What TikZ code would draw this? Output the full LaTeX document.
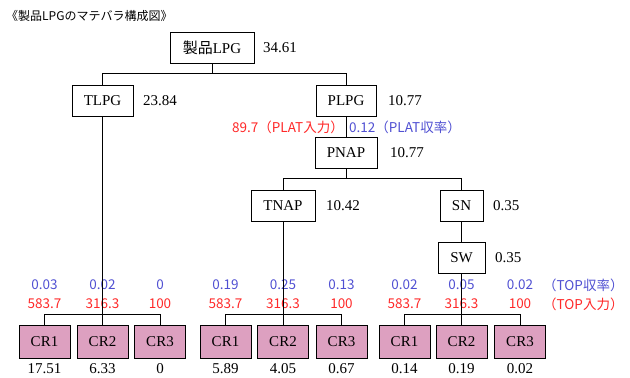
\documentclass[tikz,border=0pt]{standalone}
\usepackage{fontspec}
\setmainfont{Liberation Serif}
\newfontfamily\jp{Noto Sans CJK JP}
\definecolor{crpink}{RGB}{221,160,192}
\definecolor{lblue}{RGB}{80,80,210}
\definecolor{lred}{RGB}{255,40,40}
\begin{document}
\begin{tikzpicture}[x=1pt,y=-1pt,
  box/.style={draw,line width=0.9pt,minimum height=31pt,inner sep=0pt,font=\fontsize{15}{17}\selectfont},
  crbox/.style={box,fill=crpink,minimum width=51pt,minimum height=33pt},
  val/.style={anchor=west,inner sep=0pt,font=\fontsize{15}{17}\selectfont},
  num/.style={inner sep=0pt,font=\fontsize{15}{17}\selectfont},
  bl/.style={inner sep=0pt,text=lblue,font=\jp\fontsize{13.5}{15}\selectfont},
  rd/.style={inner sep=0pt,text=lred,font=\jp\fontsize{13.5}{15}\selectfont},
  conn/.style={line width=0.9pt}]
\useasboundingbox (0,0) rectangle (630,378);

\node[anchor=west,inner sep=0pt,font=\jp\fontsize{12}{14}\selectfont] (title) at (6,16) {《製品LPGのマテバラ構成図》};

% upper tree
\node[box,minimum width=84pt] (prod) at (212,47.5) {{\jp 製品}LPG};
\node[val] (vprod) at (263,48) {34.61};
\node[box,minimum width=61pt] (tlpg) at (102.5,101) {TLPG};
\node[val] (vtlpg) at (143,101) {23.84};
\node[box,minimum width=60pt] (plpg) at (346,101) {PLPG};
\node[val] (vplpg) at (388,101) {10.77};
\node[box,minimum width=62pt] (pnap) at (346,152.5) {PNAP};
\node[val] (vpnap) at (390,153) {10.77};
\node[rd,anchor=east] (platin) at (344,127) {89.7（PLAT入力）};
\node[bl,anchor=west] (platy) at (349,127) {0.12（PLAT収率）};
\node[box,minimum width=64pt] (tnap) at (283,205.5) {TNAP};
\node[val] (vtnap) at (326,205.5) {10.42};
\node[box,minimum width=43pt] (sn) at (461.5,205.5) {SN};
\node[val] (vsn) at (493,205.5) {0.35};
\node[box,minimum width=47pt] (sw) at (461.5,257.5) {SW};
\node[val] (vsw) at (495,257.5) {0.35};

% group 1
\node[crbox] (a1) at (44.5,341.5) {CR1};
\node[crbox] (a2) at (102.5,341.5) {CR2};
\node[crbox] (a3) at (160,341.5) {CR3};
\node[bl] (ba1) at (44.5,285) {0.03};
\node[bl] (ba2) at (102.5,285) {0.02};
\node[bl] (ba3) at (160,285) {0};
\node[rd] (ra1) at (44.5,304) {583.7};
\node[rd] (ra2) at (102.5,304) {316.3};
\node[rd] (ra3) at (160,304) {100};
\node[num] (va1) at (44.5,369) {17.51};
\node[num] (va2) at (102.5,369) {6.33};
\node[num] (va3) at (160,369) {0};

% group 2
\node[crbox] (b1) at (225.5,341.5) {CR1};
\node[crbox] (b2) at (283,341.5) {CR2};
\node[crbox] (b3) at (341.5,341.5) {CR3};
\node[bl] (bb1) at (225.5,285) {0.19};
\node[bl] (bb2) at (283,285) {0.25};
\node[bl] (bb3) at (341.5,285) {0.13};
\node[rd] (rb1) at (225.5,304) {583.7};
\node[rd] (rb2) at (283,304) {316.3};
\node[rd] (rb3) at (341.5,304) {100};
\node[num] (vb1) at (225.5,369) {5.89};
\node[num] (vb2) at (283,369) {4.05};
\node[num] (vb3) at (341.5,369) {0.67};

% group 3
\node[crbox] (c1) at (404.5,341.5) {CR1};
\node[crbox] (c2) at (461.5,341.5) {CR2};
\node[crbox] (c3) at (520,341.5) {CR3};
\node[bl] (bc1) at (404.5,285) {0.02};
\node[bl] (bc2) at (461.5,285) {0.05};
\node[bl] (bc3) at (520,285) {0.02};
\node[rd] (rc1) at (404.5,304) {583.7};
\node[rd] (rc2) at (461.5,304) {316.3};
\node[rd] (rc3) at (520,304) {100};
\node[num] (vc1) at (404.5,369) {0.14};
\node[num] (vc2) at (461.5,369) {0.19};
\node[num] (vc3) at (520,369) {0.02};
\node[bl,anchor=west] (topy) at (543,285) {（TOP収率）};
\node[rd,anchor=west] (topin) at (543,304) {（TOP入力）};

% connectors
\draw[conn] (prod.south) -- (prod.south |- 0,73);
\draw[conn] (tlpg.north) -- ++(0,-12) -| (plpg.north);
\draw[conn] (plpg.south) -- (pnap.north);
\draw[conn] (pnap.south) -- (pnap.south |- 0,179);
\draw[conn] (tnap.north) -- ++(0,-11) -| (sn.north);
\draw[conn] (sn.south) -- (sw.north);
\draw[conn] (tlpg.south) -- (a2.north);
\draw[conn] (tnap.south) -- (b2.north);
\draw[conn] (sw.south) -- (c2.north);
\draw[conn] (a1.north) -- ++(0,-10) -| (a3.north);
\draw[conn] (b1.north) -- ++(0,-10) -| (b3.north);
\draw[conn] (c1.north) -- ++(0,-10) -| (c3.north);
\end{tikzpicture}
\end{document}
